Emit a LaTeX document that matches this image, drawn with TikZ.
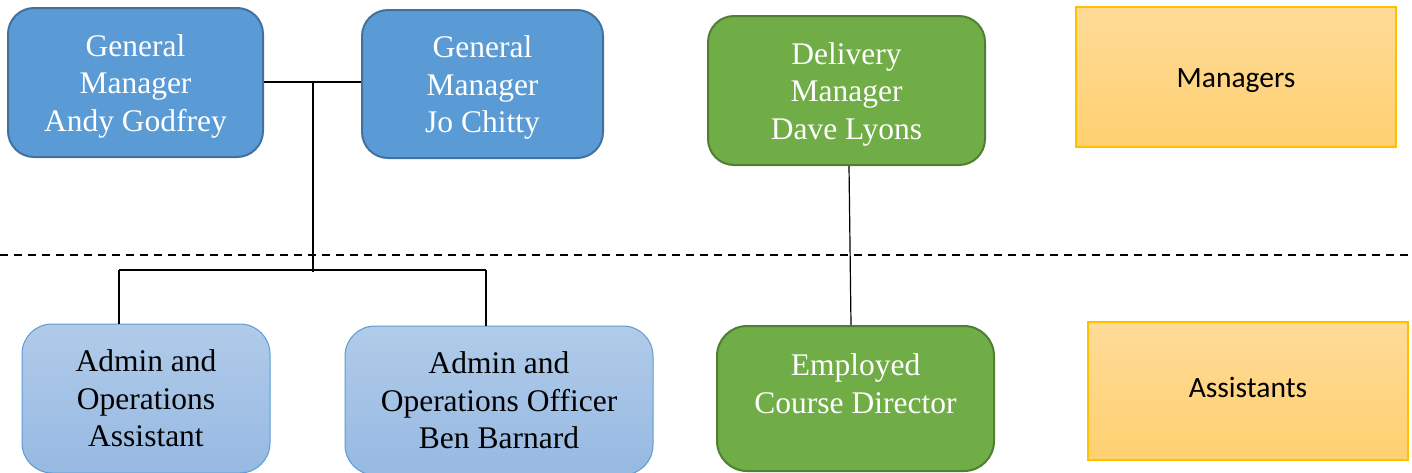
\documentclass[tikz,border=0pt]{standalone}
\usepackage{fontspec}
\setmainfont{Liberation Serif}
\newfontfamily\labelfont{Carlito}
\definecolor{gmfill}{HTML}{5B9BD5}
\definecolor{gmline}{HTML}{41719C}
\definecolor{dmfill}{HTML}{70AD47}
\definecolor{dmline}{HTML}{507E32}
\definecolor{astop}{HTML}{B1CBE9}
\definecolor{asbot}{HTML}{96B9E2}
\definecolor{asline}{HTML}{5B9BD5}
\definecolor{keytop}{HTML}{FFDB98}
\definecolor{keybot}{HTML}{FFD070}
\definecolor{keyline}{HTML}{FFC000}
% empty first line that pushes a block of text a little lower in its box
\newcommand\padtop{\mbox{}\\[-8.5pt]}
\begin{document}
\begin{tikzpicture}[x=1pt,y=-1pt,
  role/.style={rectangle, rounded corners=26pt, align=center, inner sep=0pt,
    font=\fontsize{31.5}{37.5}\selectfont},
  manager/.style={role, fill=gmfill, draw=gmline, line width=2pt, text=white},
  delivery/.style={role, fill=dmfill, draw=dmline, line width=2pt, text=white},
  assistant/.style={role, rounded corners=30pt, top color=astop, bottom color=asbot,
    draw=asline, line width=1pt, text=black},
  keybox/.style={rectangle, top color=keytop, bottom color=keybot, draw=keyline,
    line width=1.5pt, minimum width=320pt, font=\labelfont\fontsize{29.5}{34}\selectfont},
  link/.style={draw=black, line width=1.2pt},
  divider/.style={draw=black, line width=1.5pt, dash pattern=on 8pt off 6pt}]
\useasboundingbox (0,0) rectangle (1412,472);

% tier divider
\draw[divider] (0,255) -- (1412,255);

% managers
\node[manager, minimum width=255pt, minimum height=149pt] (andy) at (135.5,82.5)
  {\padtop General\\Manager\\Andy Godfrey};
\node[manager, minimum width=241pt, minimum height=148pt] (jo) at (482.5,84)
  {\padtop General\\Manager\\Jo Chitty};
\node[delivery, minimum width=277pt, minimum height=149pt] (dave) at (846.5,90.5)
  {\padtop Delivery\\Manager\\Dave Lyons};

% assistants
\node[assistant, minimum width=248pt, minimum height=149pt] (aoa) at (146,398.5)
  {Admin and\\Operations\\Assistant};
\node[assistant, minimum width=308pt, minimum height=149pt] (ben) at (499,400.5)
  {Admin and\\Operations Officer\\Ben Barnard};
\node[delivery, rounded corners=30pt, minimum width=277pt, minimum height=145pt] (ecd) at (855.5,398.5)
  {Employed\\Course Director\\[-7.5pt]\mbox{}};

% legend boxes
\node[keybox, minimum height=140pt, text height=21pt, text depth=0pt] (keymgr) at (1236,77) {Managers};
\node[keybox, minimum height=138pt, text height=13pt, text depth=0pt] (keyast) at (1248,391) {Assistants};

% reporting lines
\coordinate (join) at (313,82);
\coordinate (busL) at (119,270);
\coordinate (busR) at (486,270);
\draw[link] (andy.east |- join) -- (jo.west |- join);
\draw[link] (join) -- (313,272);
\draw[link] (busL) -- (busR);
\draw[link] (busL) -- (busL |- aoa.north);
\draw[link] (busR) -- (busR |- ben.north);
\draw[link] ([xshift=2.5pt]dave.south) -- ([xshift=-4.5pt]ecd.north);
\end{tikzpicture}
\end{document}
